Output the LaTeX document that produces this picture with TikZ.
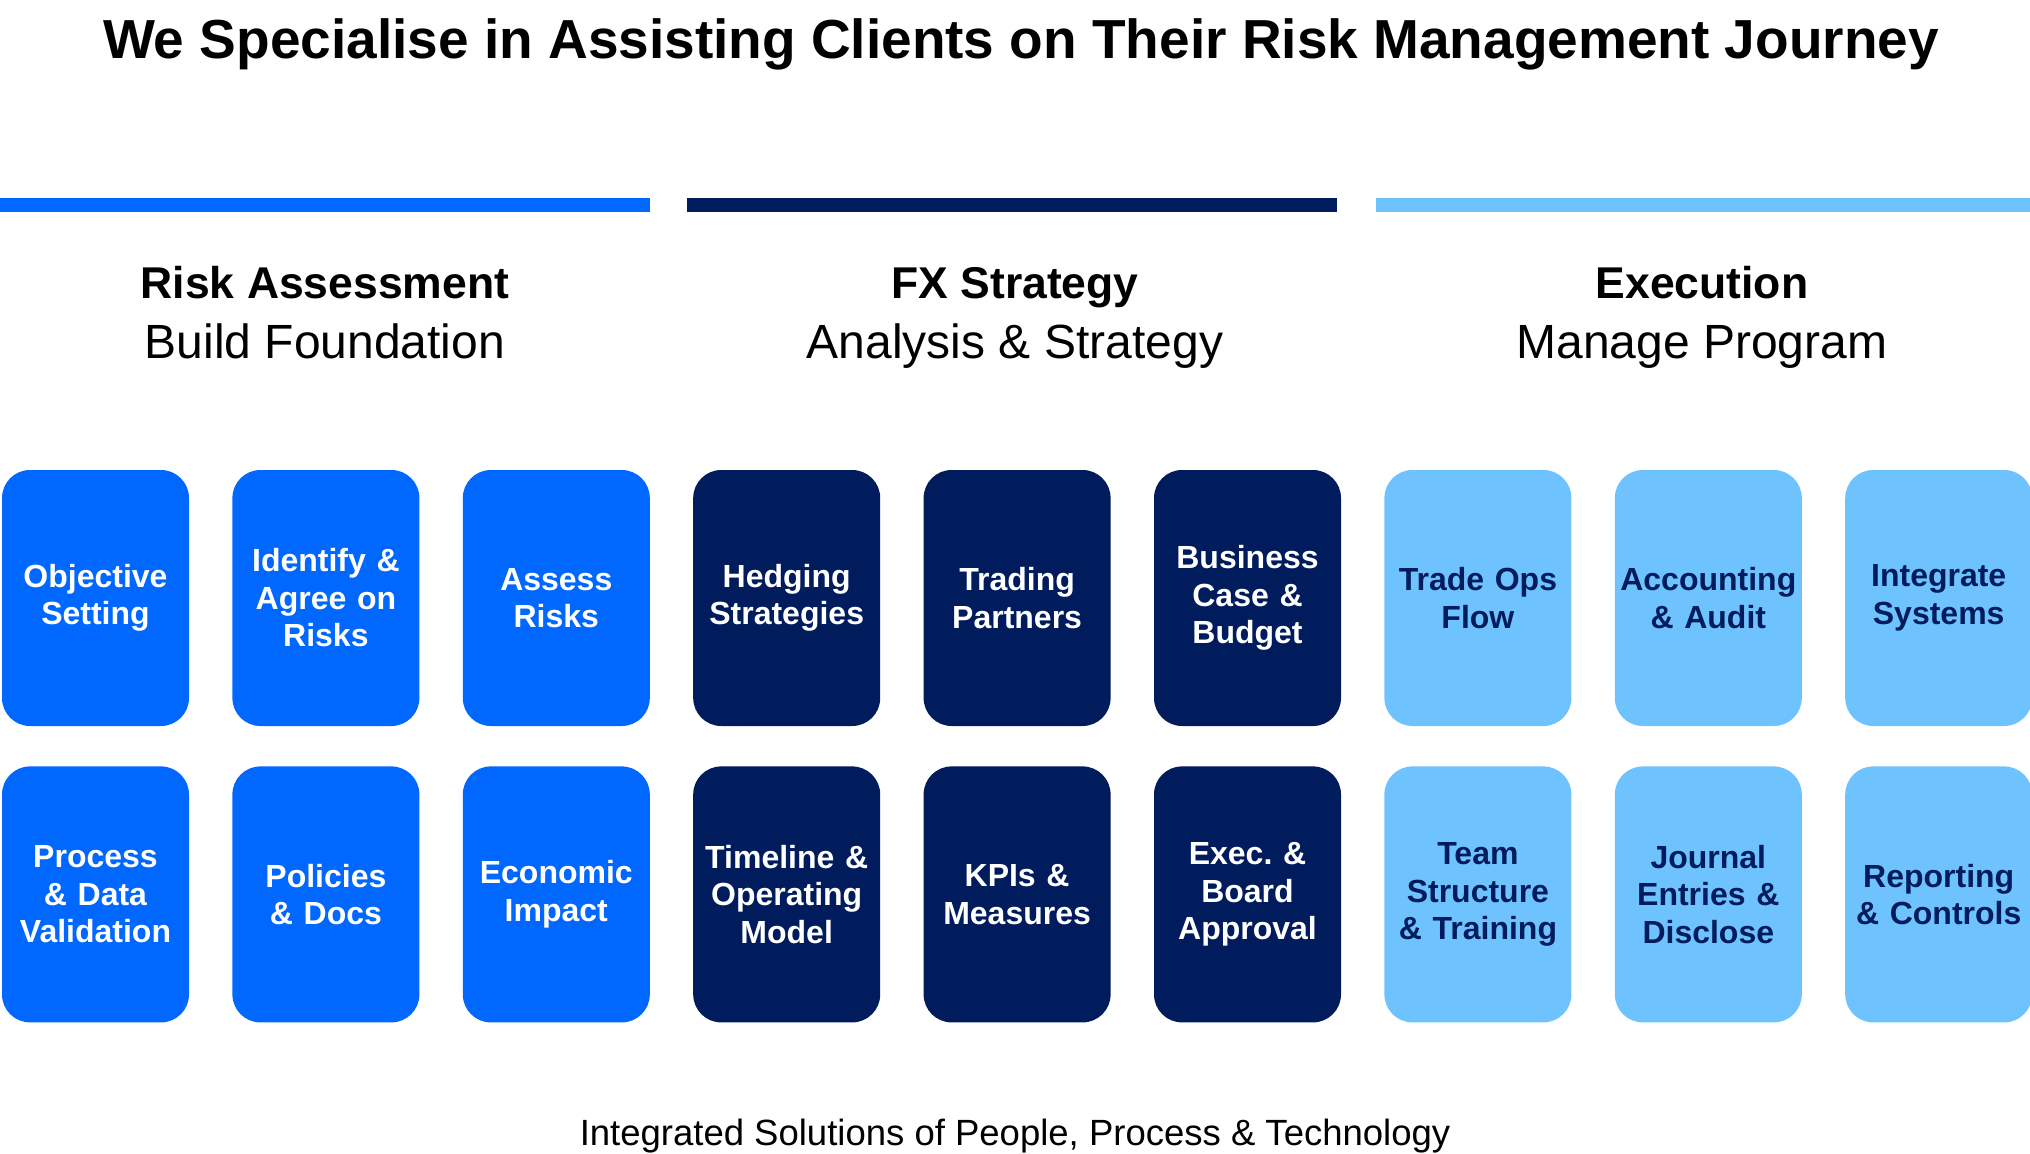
\documentclass[tikz,border=0pt]{standalone}
\usepackage{fontspec}
\setmainfont{Liberation Sans}
\usepackage{xcolor}
\usetikzlibrary{positioning}
\definecolor{riskblue}{HTML}{0068FF}
\definecolor{fxnavy}{HTML}{001C5C}
\definecolor{execsky}{HTML}{6EC3FF}

\tikzset{
  card/.style={rounded corners=28pt, minimum height=256pt, text width=181pt,
    inner xsep=3pt, inner ysep=0pt, align=center,
    font=\fontsize{32}{37.5}\selectfont\bfseries},
  riskcard/.style={card, fill=riskblue, text=white},
  fxcard/.style={card, fill=fxnavy, text=white},
  execcard/.style={card, fill=execsky, text=fxnavy},
  heading/.style={align=center, anchor=base, font=\fontsize{48}{60}\selectfont},
}

\begin{document}
\begin{tikzpicture}[x=1pt, y=-1pt, node distance=43pt]
  \useasboundingbox (0,0) rectangle (2030,1154);

  \node[anchor=base, font=\fontsize{55}{66}\selectfont\bfseries] (title) at (1021,58)
    {We Specialise in Assisting Clients on Their Risk Management Journey};

  % phase bars
  \fill[riskblue] (0,198) rectangle (650,212);
  \fill[fxnavy] (687,198) rectangle (1337,212);
  \fill[execsky] (1376,198) rectangle (2030,212);

  % phase headings (base = second line)
  \node[heading] (riskhead) at (325,358)
    {\textbf{\fontsize{44.5}{60}\selectfont Risk Assessment}\\Build Foundation};
  \node[heading] (fxhead) at (1015,358)
    {\textbf{\fontsize{44.5}{60}\selectfont FX Strategy}\\Analysis \& Strategy};
  \node[heading] (exechead) at (1702,358)
    {\textbf{\fontsize{44.5}{60}\selectfont Execution}\\Manage Program};

  % top row
  \node[riskcard] (objective) at (95.5,598) {Objective\\Setting};
  \node[riskcard, right=of objective] (identify) {Identify \&\\Agree on\\Risks};
  \node[riskcard, right=of identify] (assess) {Assess\\Risks};
  \node[fxcard, right=of assess] (hedging) {Hedging\\Strategies};
  \node[fxcard, right=of hedging] (partners) {Trading\\Partners};
  \node[fxcard, right=of partners] (budget) {Business\\Case \&\\Budget};
  \node[execcard, right=of budget] (tradeops) {Trade Ops\\Flow};
  \node[execcard, right=of tradeops] (audit) {Accounting\\\& Audit};
  \node[execcard, right=of audit] (systems) {Integrate\\Systems};

  % bottom row
  \node[riskcard, below=40pt of objective] (validation) {Process\\\& Data\\Validation};
  \node[riskcard, below=40pt of identify] (policies) {Policies\\\& Docs};
  \node[riskcard, below=40pt of assess] (impact) {Economic\\Impact};
  \node[fxcard, below=40pt of hedging] (timeline) {Timeline \&\\Operating\\Model};
  \node[fxcard, below=40pt of partners] (kpis) {KPIs \&\\Measures};
  \node[fxcard, below=40pt of budget] (approval) {Exec.\ \&\\Board\\Approval};
  \node[execcard, below=40pt of tradeops] (team) {Team\\Structure\\\& Training};
  \node[execcard, below=40pt of audit] (journal) {Journal\\Entries \&\\Disclose};
  \node[execcard, below=40pt of systems] (controls) {Reporting\\\& Controls};

  \node[anchor=base, font=\fontsize{36.5}{44}\selectfont] (footer) at (1015,1145)
    {Integrated Solutions of People, Process \& Technology};
\end{tikzpicture}
\end{document}
